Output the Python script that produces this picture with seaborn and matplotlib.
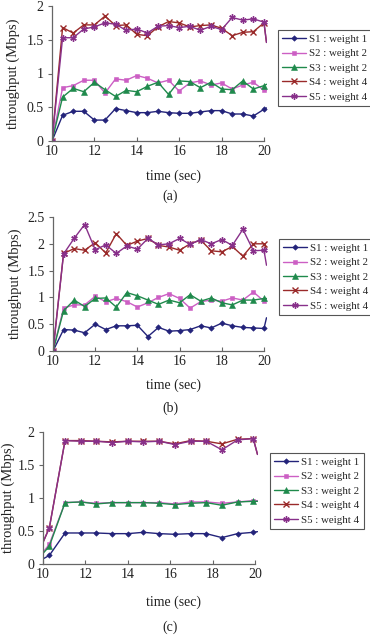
import numpy as np
import pandas as pd
import matplotlib
matplotlib.use("Agg")
import matplotlib.pyplot as plt
import seaborn as sns

# ---------------- data ----------------
series_names = ["S1 : weight 1", "S2 : weight 2", "S3 : weight 2", "S4 : weight 4", "S5 : weight 4"]

# panel (a): samples every 0.5 s, last value = level at right edge of plot area
time_a = [10, 10.5, 11, 11.5, 12, 12.5, 13, 13.5, 14, 14.5, 15, 15.5, 16, 16.5, 17, 17.5, 18, 18.5, 19, 19.5, 20, 20.12]
a_s1 = [0, 0.38, 0.44, 0.44, 0.31, 0.31, 0.48, 0.45, 0.42, 0.42, 0.44, 0.42, 0.41, 0.41, 0.43, 0.45, 0.45, 0.40, 0.40, 0.37, 0.47, 0.49]
a_s2 = [0, 0.79, 0.82, 0.90, 0.90, 0.71, 0.92, 0.90, 0.97, 0.93, 0.86, 0.90, 0.74, 0.86, 0.89, 0.83, 0.86, 0.77, 0.83, 0.87, 0.75, 0.75]
a_s3 = [0, 0.65, 0.78, 0.73, 0.87, 0.76, 0.66, 0.75, 0.73, 0.81, 0.87, 0.69, 0.89, 0.88, 0.79, 0.87, 0.77, 0.76, 0.89, 0.77, 0.82, 0.84]
a_s4 = [0, 1.68, 1.60, 1.72, 1.72, 1.85, 1.71, 1.72, 1.58, 1.56, 1.69, 1.77, 1.75, 1.69, 1.71, 1.72, 1.67, 1.56, 1.61, 1.62, 1.75, 1.46]
a_s5 = [0, 1.53, 1.53, 1.66, 1.69, 1.75, 1.73, 1.64, 1.66, 1.60, 1.70, 1.71, 1.68, 1.70, 1.64, 1.70, 1.65, 1.83, 1.79, 1.81, 1.76, 1.46]

# panel (b)
time_b = time_a
b_s1 = [0, 0.40, 0.39, 0.34, 0.50, 0.40, 0.47, 0.47, 0.48, 0.27, 0.44, 0.37, 0.38, 0.40, 0.47, 0.43, 0.52, 0.47, 0.44, 0.43, 0.42, 0.62]
b_s2 = [0, 0.80, 0.86, 0.86, 1.02, 0.92, 0.98, 0.92, 0.82, 0.90, 1.00, 1.07, 0.98, 0.80, 0.92, 0.95, 0.93, 0.99, 0.95, 1.10, 0.93, 0.93]
b_s3 = [0, 0.75, 0.95, 0.83, 0.98, 0.99, 0.82, 1.09, 1.03, 0.95, 0.87, 0.95, 0.90, 1.05, 0.93, 0.99, 0.90, 0.86, 0.95, 0.95, 0.98, 0.98]
b_s4 = [0, 1.82, 1.91, 1.88, 2.02, 1.83, 2.19, 1.97, 2.05, 2.10, 1.97, 1.94, 1.88, 2.00, 2.07, 1.87, 1.85, 1.95, 1.77, 2.00, 2.00, 1.90]
b_s5 = [0, 1.81, 2.10, 2.36, 1.89, 1.98, 1.82, 1.96, 1.90, 2.10, 1.98, 2.00, 2.10, 1.99, 2.08, 2.00, 2.08, 1.97, 2.27, 1.87, 1.88, 1.60]

# panel (c): samples every ~0.74 s (first sample lies left of the plot area)
time_c = [9.56, 10.30, 11.04, 11.78, 12.52, 13.26, 14.00, 14.74, 15.48, 16.22, 16.96, 17.70, 18.44, 19.18, 19.92, 20.12]
c_s1 = [0, 0.13, 0.47, 0.47, 0.47, 0.46, 0.46, 0.48, 0.46, 0.45, 0.46, 0.46, 0.40, 0.46, 0.48, 0.49]
c_s2 = [0, 0.30, 0.93, 0.94, 0.92, 0.93, 0.93, 0.93, 0.93, 0.91, 0.94, 0.94, 0.92, 0.94, 0.96, 0.96]
c_s3 = [0, 0.27, 0.93, 0.94, 0.91, 0.93, 0.93, 0.93, 0.92, 0.90, 0.92, 0.93, 0.89, 0.94, 0.95, 0.95]
c_s4 = [0, 0.55, 1.87, 1.87, 1.86, 1.85, 1.86, 1.86, 1.86, 1.82, 1.87, 1.86, 1.82, 1.89, 1.90, 1.66]
c_s5 = [0, 0.55, 1.87, 1.86, 1.86, 1.84, 1.86, 1.85, 1.86, 1.81, 1.86, 1.86, 1.73, 1.88, 1.90, 1.66]

panel_labels = ["(a)", "(b)", "(c)"]
x_ticks = [10, 12, 14, 16, 18, 20]
y_ticks_a = [0, 0.5, 1, 1.5, 2]
y_ticks_b = [0, 0.5, 1, 1.5, 2, 2.5]
y_ticks_c = [0, 0.5, 1, 1.5, 2]

# ---------------- style ----------------
colors = ["#23237a", "#cc5fc4", "#1f8a4c", "#9a2a2a", "#88308a"]
markers = ["D", "s", "^", "x", (6, 2, 0)]
msizes = [2.8, 3.2, 3.8, 3.8, 4.6]

sns.set_theme(style="ticks")
plt.rcParams["font.family"] = ["Liberation Serif", "DejaVu Serif"]

W, H = 370, 636
fig = plt.figure(figsize=(W / 100, H / 100), dpi=100)


def px_axes(left, right, top, bottom):
    return fig.add_axes([left / W, 1 - bottom / H, (right - left) / W, (bottom - top) / H])


panels = [
    dict(t=time_a, ys=[a_s1, a_s2, a_s3, a_s4, a_s5], box=(52, 266.5, 6, 141), ylim=2, yt=y_ticks_a,
         leg=(278, 30, 367, 119), ylab_x=13, xl_y=176, cap_y=196),
    dict(t=time_b, ys=[b_s1, b_s2, b_s3, b_s4, b_s5], box=(53, 266.5, 217, 351), ylim=2.5, yt=y_ticks_b,
         leg=(279, 239, 367, 329), ylab_x=15, xl_y=385, cap_y=408),
    dict(t=time_c, ys=[c_s1, c_s2, c_s3, c_s4, c_s5], box=(43, 257.5, 432, 564), ylim=2, yt=y_ticks_c,
         leg=(270, 453, 360, 542), ylab_x=8, xl_y=602, cap_y=627),
]

for p, cap in zip(panels, panel_labels):
    l, r, t, b = p["box"]
    ax = px_axes(l, r, t, b)
    t_arr = np.array(p["t"])
    inside = [i for i, v in enumerate(t_arr) if 10 <= v <= 20]
    for name, y, c, m, ms in zip(series_names, p["ys"], colors, markers, msizes):
        df = pd.DataFrame({"time": t_arr, "thr": y})
        sns.lineplot(data=df, x="time", y="thr", ax=ax, color=c, lw=1.0, marker=m,
                     markersize=ms, markeredgewidth=1.0 if m in ("x", (6, 2, 0)) else 0.4,
                     markeredgecolor=c, markevery=inside, label=name, sort=False,
                     estimator=None)
    ax.set_xlim(10, 20.12)
    ax.set_ylim(0, p["ylim"])
    ax.set_xticks(x_ticks)
    ax.set_xticklabels([str(v) for v in x_ticks])
    ax.set_yticks(p["yt"])
    ax.set_yticklabels([f"{v:g}" for v in p["yt"]])
    ax.spines["top"].set_visible(False)
    ax.spines["right"].set_visible(False)
    ax.spines["bottom"].set_bounds(10, 20)
    for s in ("left", "bottom"):
        ax.spines[s].set_color("#666666")
        ax.spines[s].set_linewidth(0.9)
    ax.tick_params(axis="x", direction="in", length=3, width=0.8, color="#666666",
                   labelsize=10, pad=3, labelcolor="#222222")
    ax.tick_params(axis="y", direction="out", length=3, width=0.8, color="#666666",
                   labelsize=10, pad=3, labelcolor="#222222")
    ax.set_xlabel("")
    ax.set_ylabel("")
    ax.get_legend().remove()
    # axis titles and caption
    ymid = (t + b) / 2
    fig.text(p["ylab_x"] / W, 1 - ymid / H, "throughput (Mbps)", rotation=90, ha="center",
             va="center", fontsize=10.5, color="#222222")
    fig.text(173 / W, 1 - p["xl_y"] / H, "time (sec)", ha="center", va="center",
             fontsize=10, color="#222222")
    fig.text(170 / W, 1 - p["cap_y"] / H, cap, ha="center", va="center",
             fontsize=10, color="#222222")
    # legend
    lx0, ly0, lx1, ly1 = p["leg"]
    handles, labels = ax.get_legend_handles_labels()
    leg = fig.legend(handles, labels, loc="upper left",
                     bbox_to_anchor=(lx0 / W, 1 - ly0 / H), bbox_transform=fig.transFigure,
                     fontsize=7.8, frameon=True, fancybox=False, edgecolor="#555555",
                     framealpha=1, handlelength=2.2, handletextpad=0.3, borderpad=0.4,
                     labelspacing=0.45, borderaxespad=0)
    leg.get_frame().set_linewidth(0.8)

fig.savefig("out.png", dpi=100)
